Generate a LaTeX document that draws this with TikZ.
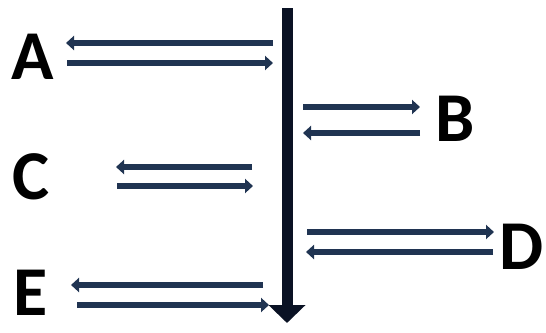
\documentclass[tikz,border=0pt]{standalone}
\usepackage{fontspec}
\setmainfont{Carlito}
\usetikzlibrary{arrows.meta}
\definecolor{arr}{RGB}{32,52,82}
\definecolor{bar}{RGB}{10,18,36}
\tikzset{
  lbl/.style={font=\fontsize{70}{70}\selectfont\bfseries, inner sep=0pt, text=black},
  harr/.style={draw=arr, line width=6pt, -{Triangle[width=14pt,length=8pt]}},
}
\begin{document}
\begin{tikzpicture}[x=1pt,y=-1pt]
\useasboundingbox (0,0) rectangle (546,332);
% labels
\node[lbl] (A) at (33,57) {A};
\node[lbl] (B) at (455,119) {B};
\node[lbl] (C) at (31,177) {C};
\node[lbl] (D) at (522,247) {D};
\node[lbl] (E) at (31,293) {E};
% vertical bar
\coordinate (vt) at (287,8);
\coordinate (vb) at (287,323);
\draw[draw=bar, line width=11pt, -{Triangle[width=36pt,length=18pt]}] (vt) -- (vb);
% A
\coordinate (a1s) at (273,43); \coordinate (a1e) at (66,43);
\coordinate (a2s) at (67,63); \coordinate (a2e) at (273,63);
\draw[harr] (a1s) -- (a1e);
\draw[harr] (a2s) -- (a2e);
% B
\coordinate (b1s) at (303,107); \coordinate (b1e) at (420,107);
\coordinate (b2s) at (420,133); \coordinate (b2e) at (303,133);
\draw[harr] (b1s) -- (b1e);
\draw[harr] (b2s) -- (b2e);
% C
\coordinate (c1s) at (252,167); \coordinate (c1e) at (116,167);
\coordinate (c2s) at (117,186); \coordinate (c2e) at (253,186);
\draw[harr] (c1s) -- (c1e);
\draw[harr] (c2s) -- (c2e);
% D
\coordinate (d1s) at (307,232); \coordinate (d1e) at (494,232);
\coordinate (d2s) at (493,252); \coordinate (d2e) at (306,252);
\draw[harr] (d1s) -- (d1e);
\draw[harr] (d2s) -- (d2e);
% E
\coordinate (e1s) at (263,285); \coordinate (e1e) at (71,285);
\coordinate (e2s) at (77,305); \coordinate (e2e) at (269,305);
\draw[harr] (e1s) -- (e1e);
\draw[harr] (e2s) -- (e2e);
\end{tikzpicture}
\end{document}
